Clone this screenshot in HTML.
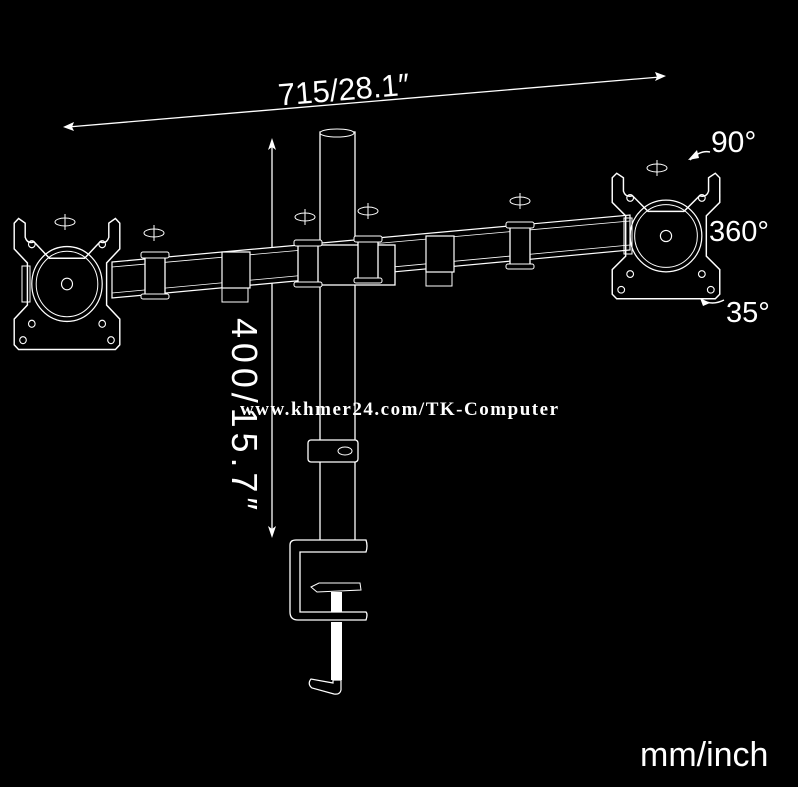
<!DOCTYPE html>
<html><head><style>
html,body{margin:0;padding:0;background:#000;}
svg{display:block}
text{font-family:"Liberation Sans",sans-serif;fill:#fff}
</style></head><body>
<svg width="798" height="787" viewBox="0 0 798 787" xmlns="http://www.w3.org/2000/svg">
<defs>
<g id="plate">
<path d="M-48,-52 L-44,-56 L-38,-52 L-38,-40 Q-36,-34 -30,-36 L-16,-22 L16,-22 L30,-36 Q36,-34 38,-40 L38,-52 L44,-56 L48,-52 L48,-30 L36,-18 L36,18 L48,30 L48,52 L44,56 L-44,56 L-48,52 L-48,30 L-36,18 L-36,-18 L-48,-30Z" fill="none" stroke="#fff" stroke-width="1.3"/>
<circle r="32" fill="none" stroke="#fff" stroke-width="1.1"/>
<circle r="28" fill="none" stroke="#fff" stroke-width="0.9"/>
<circle r="5" fill="none" stroke="#fff" stroke-width="1"/>
<circle cx="-32" cy="-34" r="3" fill="none" stroke="#fff"/><circle cx="32" cy="-34" r="3" fill="none" stroke="#fff"/>
<circle cx="-32" cy="34" r="3" fill="none" stroke="#fff"/><circle cx="32" cy="34" r="3" fill="none" stroke="#fff"/>
<circle cx="-40" cy="48" r="3" fill="none" stroke="#fff"/><circle cx="40" cy="48" r="3" fill="none" stroke="#fff"/>
</g>
<g id="rot"><ellipse rx="10" ry="4" fill="none" stroke="#fff" stroke-width="1"/><line x1="0" y1="-8" x2="0" y2="8" stroke="#fff"/></g>
<g id="clip"><rect x="-10" y="-20" width="20" height="44" fill="#000" stroke="#fff" stroke-width="1.3"/><rect x="-14" y="-22" width="28" height="6" rx="2" fill="#000" stroke="#fff"/><rect x="-14" y="20" width="28" height="5" rx="2" fill="#000" stroke="#fff"/></g>
</defs>

<!-- dimension arrows -->
<line x1="68" y1="127" x2="660" y2="77" stroke="#fff" stroke-width="1.3"/>
<path d="M63,127 L74,122 L72,127 L74,131Z M666,76 L655,72 L657,77 L655,81Z" fill="#fff"/>
<text x="278" y="98" font-size="31" transform="rotate(-4.8 370 90)">715/28.1″</text>
<line x1="272" y1="142" x2="272" y2="535" stroke="#fff" stroke-width="1.3"/>
<path d="M272,138 L268,150 L272,147 L276,150Z M272,538 L268,526 L272,529 L276,526Z" fill="#fff"/>
<text font-size="36" transform="translate(232,318) rotate(90)" textLength="192">400/15.7″</text>

<!-- pole -->
<rect x="320" y="132" width="35" height="410" fill="#000" stroke="#fff" stroke-width="1.3"/>
<ellipse cx="337" cy="133" rx="17" ry="4" fill="#000" stroke="#fff"/>

<!-- arm -->
<path d="M112,262 L630,215 L630,250 L112,298Z" fill="#000" stroke="#fff" stroke-width="1.2"/>
<line x1="112" y1="267" x2="630" y2="221" stroke="#fff" stroke-width="0.8"/>
<line x1="112" y1="293" x2="630" y2="245" stroke="#fff" stroke-width="0.8"/>
<rect x="222" y="252" width="28" height="36" fill="#000" stroke="#fff" stroke-width="1.2"/>
<rect x="222" y="288" width="26" height="14" fill="none" stroke="#fff"/>
<rect x="426" y="236" width="28" height="36" fill="#000" stroke="#fff" stroke-width="1.2"/>
<rect x="426" y="272" width="26" height="14" fill="none" stroke="#fff"/>
<rect x="300" y="245" width="95" height="40" fill="#000" stroke="#fff" stroke-width="1.3"/>
<g transform="translate(308,262)"><use href="#clip"/></g>
<g transform="translate(368,258)"><use href="#clip"/></g>
<g transform="translate(155,274)"><use href="#clip"/></g>
<g transform="translate(520,244)"><use href="#clip"/></g>
<g transform="translate(65,222)"><use href="#rot"/></g>
<g transform="translate(154,233)"><use href="#rot"/></g>
<g transform="translate(305,217)"><use href="#rot"/></g>
<g transform="translate(368,211)"><use href="#rot"/></g>
<g transform="translate(520,201)"><use href="#rot"/></g>
<g transform="translate(657,168)"><use href="#rot"/></g>

<!-- plates -->
<g transform="translate(67,284) scale(1.1,1.17)"><use href="#plate"/></g>
<rect x="22" y="266" width="8" height="36" fill="none" stroke="#fff"/>
<g transform="translate(666,236) scale(1.12,1.12)"><use href="#plate"/></g>
<rect x="624" y="218" width="8" height="36" fill="none" stroke="#fff"/>

<!-- collar -->
<rect x="308" y="440" width="50" height="22" rx="3" fill="#000" stroke="#fff" stroke-width="1.3"/>
<ellipse cx="345" cy="451" rx="7" ry="4" fill="none" stroke="#fff"/>

<!-- clamp -->
<path d="M290,545 L290,612 Q290,620 298,620 L366,620 Q368,614 366,612 L300,612 L300,552 L366,552 Q368,546 366,540 L296,540 Q290,540 290,545Z" fill="#000" stroke="#fff" stroke-width="1.3"/>
<path d="M311,587 L319,583 L360,583 L361,590 L317,592Z" fill="#000" stroke="#fff"/>
<rect x="331" y="592" width="11" height="20" fill="#fff"/>
<rect x="331" y="622" width="11" height="58" fill="#fff"/>
<path d="M333,680 L341,680 L341,690 Q340,695 334,694 L312,688 Q307,684 311,679 L333,683Z" fill="#000" stroke="#fff" stroke-width="1.2"/>

<!-- watermark -->
<text x="240" y="415" font-size="19" font-weight="bold" textLength="318" style="font-family:'Liberation Serif',serif">www.khmer24.com/TK-Computer</text>

<!-- angle labels -->
<text x="711" y="152" font-size="30">90°</text>
<text x="709" y="241" font-size="29">360°</text>
<text x="726" y="322" font-size="29">35°</text>
<path d="M690,160 Q700,150 710,152" fill="none" stroke="#fff" stroke-width="1.5"/>
<path d="M688,160 L697,150 L699,158Z" fill="#fff"/>
<path d="M702,300 Q712,306 724,300" fill="none" stroke="#fff" stroke-width="1.5"/>
<path d="M700,298 L710,303 L703,306Z" fill="#fff"/>
<text x="640" y="766" font-size="34">mm/inch</text>
</svg>
</body></html>
